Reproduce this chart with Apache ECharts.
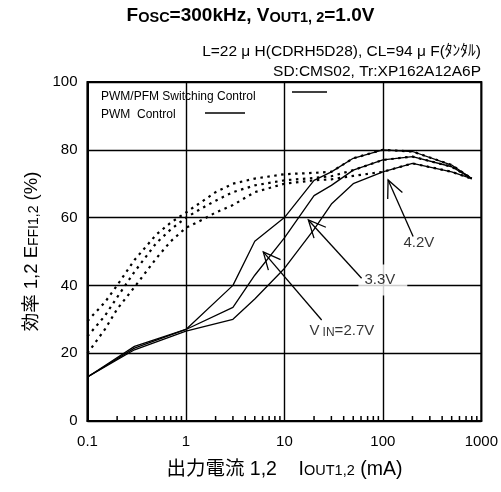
<!DOCTYPE html>
<html><head><meta charset="utf-8">
<script src="https://cdn.jsdelivr.net/npm/echarts@6/dist/echarts.min.js"></script>
<style>html,body{margin:0;padding:0;background:#fff}#c{width:501px;height:492px}</style>
</head><body><div id="c"></div>
<script>
const FONT = "'Liberation Sans', Arial, 'Noto Sans CJK JP', sans-serif";
const xTickLabels = ['0.1', '1', '10', '100', '1000'];
const yTickLabels = ['0', '20', '40', '60', '80', '100'];
const minorTicks = [0.2,0.3,0.4,0.5,0.6,0.7,0.8,0.9, 2,3,4,5,6,7,8,9, 20,30,40,50,60,70,80,90, 200,300,400,500,600,700,800,900];

// PWM control (solid)
const solidCurrents = [0.1, 0.3, 1, 3, 5, 10, 20, 30, 50, 100, 200, 500, 800];
const pwmVin27 = [13, 22, 27, 40, 53, 60, 71, 73.5, 77.5, 80, 79.5, 75.5, 71.5];
const pwmVin33 = [13, 21.5, 27, 33.5, 43, 54, 66.5, 69.5, 74, 77, 78, 75, 71.5];
const pwmVin42 = [13, 21, 26.5, 30, 36, 45, 56.5, 64, 70, 73.5, 76, 73.5, 71.5];

// PWM/PFM switching control (dotted)
const dottedCurrents = [0.1, 0.15, 0.2, 0.3, 0.5, 0.7, 1, 1.5, 2, 3, 5, 10, 20, 30, 50, 100, 200, 500, 800];
const pfmVin27 = [29.5, 35, 40, 47.5, 55, 58.5, 61.5, 65, 67.5, 70, 71.5, 72.8, 73.2, 73.5, 77.5, 80, 79.5, 75.5, 71.5];
const pfmVin33 = [25, 31, 36.5, 44, 52.5, 56.5, 60, 63, 65, 67.5, 69.5, 71, 71.7, 72.2, 74, 77, 78, 75, 71.5];
const pfmVin42 = [20, 27, 33, 39.5, 48, 53, 57, 59.5, 61.5, 63.7, 67.5, 70, 71, 71.3, 72.3, 73.5, 76, 73.5, 71.5];

// annotations (data units)
const arrowTails = [[203, 54.4], [60.8, 42.1], [23.9, 29.8]];
const arrowTips = [[113, 71.1], [17.5, 59.3], [6.1, 49.9]];
const labelPos = [[232, 52.5], [100, 41.6], [39.3, 26.5]];
const labelTexts = ['4.2V', '3.3V', '{a|V}{s|IN}{a|=2.7V}'];

const pair = (xs, ys) => xs.map((x, i) => [x, ys[i]]);
const chart = echarts.init(document.getElementById('c'), null, {renderer: 'canvas'});

const solidStyle = {color: '#000', width: 1.3, type: 'solid'};
const dotStyle = {color: '#000', width: 2.2, type: [2.5, 4.5]};
function lineSeries(name, data, style) {
  return {name, type: 'line', data, showSymbol: false, symbol: 'none', smooth: false,
    lineStyle: style, itemStyle: {color: '#000'}, z: 2, silent: true, animation: false};
}
const labelBoxes = [
  {backgroundColor: 'transparent'},
  {backgroundColor: '#fff', padding: [8, 12, 8, 6]},
  {backgroundColor: '#fff', padding: [9, 6, 9, 4]}
];

const option = {
  animation: false,
  backgroundColor: '#fff',
  textStyle: {fontFamily: FONT},
  title: {
    left: 'center', top: 1,
    text: '{b|F}{s|OSC}{b|=300kHz, V}{s|OUT1, 2}{b|=1.0V}',
    textStyle: {rich: {
      b: {fontFamily: FONT, fontWeight: 'bold', fontSize: 19, color: '#000'},
      s: {fontFamily: FONT, fontWeight: 'bold', fontSize: 14.5, color: '#000', padding: [4, 0, 0, 0]}
    }}
  },
  grid: {left: 87.5, right: 19.5, top: 82, bottom: 71, show: true, borderColor: '#000', borderWidth: 2, backgroundColor: 'transparent'},
  xAxis: {
    type: 'log', logBase: 10, min: 0.1, max: 1000,
    axisLine: {show: true, lineStyle: {color: '#000', width: 2}},
    axisTick: {show: false},
    splitLine: {show: true, lineStyle: {color: '#000', width: 1.4}},
    axisLabel: {color: '#000', fontSize: 15, fontFamily: FONT, margin: 13,
      formatter: (v) => { const i = Math.round(Math.log10(v)) + 1; return xTickLabels[i] || ''; }},
    name: '出力電流 1,2    I{s|OUT1,2} (mA)', nameLocation: 'middle', nameGap: 39,
    nameTextStyle: {color: '#000', fontSize: 19.5, fontFamily: FONT, rich: {s: {fontSize: 14.5, fontFamily: FONT, color: '#000', padding: [3, 0, 0, 0]}}}
  },
  yAxis: {
    type: 'value', min: 0, max: 100, interval: 20,
    axisLine: {show: true, lineStyle: {color: '#000', width: 2}},
    axisTick: {show: false},
    splitLine: {show: true, lineStyle: {color: '#000', width: 1.4}},
    axisLabel: {color: '#000', fontSize: 15, fontFamily: FONT, margin: 10,
      formatter: (v) => yTickLabels[Math.round(v / 20)]},
    name: '効率 1,2 E{s|FFI1,2} (%)', nameLocation: 'middle', nameGap: 46, nameRotate: 90,
    nameTextStyle: {color: '#000', fontSize: 18.5, fontFamily: FONT, rich: {s: {fontSize: 14, fontFamily: FONT, color: '#000', padding: [3, 0, 0, 0]}}}
  },
  graphic: [
    {type: 'text', right: 20, top: 44, style: {text: 'L=22 μ H(CDRH5D28), CL=94 μ F(ﾀﾝﾀﾙ)', fill: '#000', font: "15.5px 'Liberation Sans', 'Noto Sans CJK JP', sans-serif"}},
    {type: 'text', right: 20, top: 64, style: {text: 'SD:CMS02, Tr:XP162A12A6P', fill: '#000', font: "15.5px 'Liberation Sans', sans-serif"}},
    {type: 'text', left: 101, top: 91, style: {text: 'PWM/PFM Switching Control', fill: '#000', font: "12px 'Liberation Sans', sans-serif"}},
    {type: 'line', shape: {x1: 292, y1: 92, x2: 327, y2: 92}, style: {stroke: '#000', lineWidth: 1.3}},
    {type: 'text', left: 101, top: 109, style: {text: 'PWM  Control', fill: '#000', font: "12px 'Liberation Sans', sans-serif"}},
    {type: 'line', shape: {x1: 205, y1: 113, x2: 245, y2: 113}, style: {stroke: '#000', lineWidth: 1.3}}
  ],
  series: [
    lineSeries('PWM 2.7V', pair(solidCurrents, pwmVin27), solidStyle),
    lineSeries('PWM 3.3V', pair(solidCurrents, pwmVin33), solidStyle),
    lineSeries('PWM 4.2V', pair(solidCurrents, pwmVin42), solidStyle),
    lineSeries('PFM 2.7V', pair(dottedCurrents, pfmVin27), dotStyle),
    lineSeries('PFM 3.3V', pair(dottedCurrents, pfmVin33), dotStyle),
    lineSeries('PFM 4.2V', pair(dottedCurrents, pfmVin42), dotStyle),
    {
      type: 'custom', name: 'minorTicks', silent: true, z: 5, clip: false,
      data: minorTicks.map(v => [v, 0]),
      renderItem: (params, api) => {
        const p = api.coord([api.value(0), 0]);
        return {type: 'line', shape: {x1: p[0], y1: p[1], x2: p[0], y2: p[1] - 5}, style: {stroke: '#000', lineWidth: 1.5}};
      }
    },
    {
      type: 'scatter', name: 'labels', silent: true, z: 3, symbolSize: 0,
      data: labelPos.map((p, i) => ({value: p, label: labelBoxes[i]})),
      label: {
        show: true, position: 'inside', color: '#000', fontSize: 15, fontFamily: FONT,
        formatter: (p) => labelTexts[p.dataIndex],
        rich: {a: {fontSize: 15, fontFamily: FONT, color: '#000'}, s: {fontSize: 12, fontFamily: FONT, color: '#000', padding: [3, 0, 0, 3]}}
      },
      labelLayout: {hideOverlap: false}
    },
    {
      type: 'custom', name: 'arrows', silent: true, z: 4, clip: false,
      data: arrowTails.map((t, i) => [t[0], t[1], arrowTips[i][0], arrowTips[i][1]]),
      encode: {x: [0, 2], y: [1, 3]},
      renderItem: (params, api) => {
        const tail = api.coord([api.value(0), api.value(1)]);
        const tip = api.coord([api.value(2), api.value(3)]);
        const dx = tail[0] - tip[0], dy = tail[1] - tip[1];
        const len = Math.hypot(dx, dy), ux = dx / len, uy = dy / len;
        const L = 19, a = 25 * Math.PI / 180;
        const arm = (ang) => [tip[0] + L * (ux * Math.cos(ang) - uy * Math.sin(ang)), tip[1] + L * (ux * Math.sin(ang) + uy * Math.cos(ang))];
        return {type: 'group', children: [
          {type: 'line', shape: {x1: tail[0], y1: tail[1], x2: tip[0], y2: tip[1]}, style: {stroke: '#000', lineWidth: 1.3}},
          {type: 'polyline', shape: {points: [arm(a), tip, arm(-a)]}, style: {stroke: '#000', fill: null, lineWidth: 1.3}}
        ]};
      }
    }
  ]
};
chart.setOption(option);
</script>
</body></html>
